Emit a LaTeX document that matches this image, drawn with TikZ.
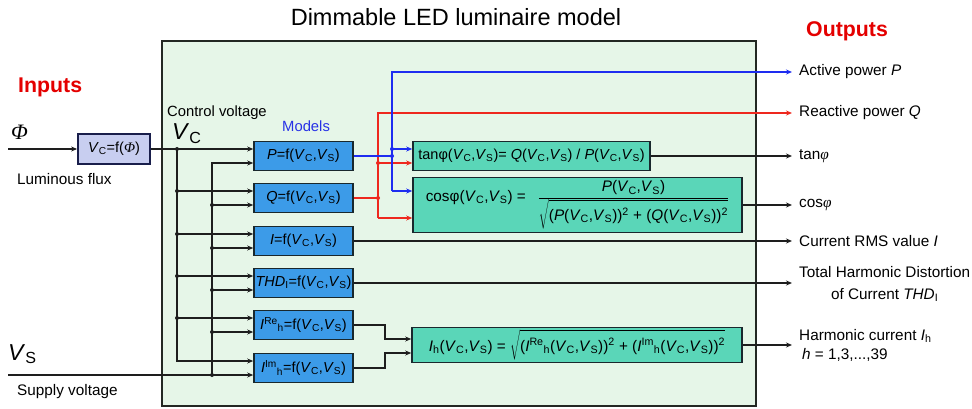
\documentclass[tikz,border=0pt]{standalone}
\usepackage{fontspec}
\setmainfont{Liberation Sans}
\newfontfamily\serifit{Liberation Serif}
\usetikzlibrary{arrows.meta}
\definecolor{mainfill}{RGB}{230,246,232}
\definecolor{mainline}{RGB}{35,40,35}
\definecolor{modelfill}{RGB}{60,155,232}
\definecolor{formfill}{RGB}{90,214,184}
\definecolor{boxline}{RGB}{25,40,45}
\definecolor{vcfill}{RGB}{200,206,240}
\definecolor{vcline}{RGB}{25,30,75}
\definecolor{wirec}{RGB}{30,30,30}
\definecolor{wred}{RGB}{238,40,30}
\definecolor{wblue}{RGB}{30,45,240}
\definecolor{titlered}{RGB}{228,0,0}
\definecolor{modelsblue}{RGB}{40,50,230}
\newcommand{\VC}{\textit{V}\textsubscript{C}}
\newcommand{\VS}{\textit{V}\textsubscript{S}}
\newcommand{\bigstrut}{\rule[-7pt]{0pt}{25pt}}
\begin{document}
\begin{tikzpicture}[x=1pt,y=-1pt,
  wire/.style={line width=1.2pt, draw=wirec},
  arr/.style={-{Stealth[length=6pt,width=5pt]}},
  jdot/.style={circle, fill=wirec, inner sep=0pt, minimum size=4pt},
  model/.style={draw=boxline, fill=modelfill, line width=1.6pt, minimum width=99pt, minimum height=29pt, inner sep=0pt, font=\fontsize{14.5}{17}\selectfont},
  formula/.style={draw=boxline, fill=formfill, line width=1.6pt, inner sep=0pt, font=\fontsize{14.5}{17}\selectfont},
  outlbl/.style={anchor=west, inner xsep=7pt, inner ysep=0pt, font=\fontsize{15.3}{19}\selectfont},
  txt/.style={inner sep=0pt, font=\fontsize{15.3}{19}\selectfont}
]
\useasboundingbox (0,0) rectangle (972,409);
% main box
\node[draw=mainline, fill=mainfill, line width=2pt, minimum width=594pt, minimum height=365pt, inner sep=0pt] (main) at (459,223.5) {};
% titles
\node[anchor=base, inner sep=0pt, font=\fontsize{23.5}{28}\selectfont] (title) at (456,26) {Dimmable LED luminaire model};
\node[anchor=base west, inner sep=0pt, text=titlered, font=\fontsize{21.3}{25}\selectfont\bfseries] (inputs) at (18,93) {Inputs};
\node[anchor=base west, inner sep=0pt, text=titlered, font=\fontsize{21.3}{25}\selectfont\bfseries] (outputs) at (806,37) {Outputs};
% input labels
\node[anchor=base west, inner sep=0pt, font=\fontsize{22}{26}\selectfont] (phi) at (11,140) {{\serifit\itshape Φ}};
\node[anchor=base west, txt] (lum) at (17,185) {Luminous flux};
\node[anchor=base west, inner sep=0pt, font=\fontsize{23}{26}\selectfont] (vslbl) at (8,360) {\VS};
\node[anchor=base west, txt] (sup) at (17,395) {Supply voltage};
\node[anchor=base west, txt, font=\fontsize{14.8}{18}\selectfont] (ctrl) at (167,117) {Control voltage};
\node[anchor=base west, inner sep=0pt, font=\fontsize{23}{26}\selectfont] (vclbl) at (172,140) {\VC};
\node[anchor=base west, txt, text=modelsblue, font=\fontsize{14.8}{18}\selectfont] (models) at (282,132) {Models};
% VC box
\node[draw=vcline, fill=vcfill, line width=1.8pt, minimum width=72pt, minimum height=30pt, inner sep=0pt, font=\fontsize{14.5}{17}\selectfont] (vcbox) at (114,149) {\VC=f({\serifit\itshape Φ})};
% model boxes
\node[model] (P) at (303.5,156) {\textit{P}=f(\VC,\VS)};
\node[model] (Q) at (303.5,198) {\textit{Q}=f(\VC,\VS)};
\node[model] (I) at (303.5,241) {\textit{I}=f(\VC,\VS)};
\node[model] (THD) at (303.5,283) {\textit{THD}\textsubscript{I}=f(\VC,\VS)};
\node[model] (IRe) at (303.5,325) {\textit{I}\textsuperscript{Re}\textsubscript{h}=f(\VC,\VS)};
\node[model] (IIm) at (303.5,368) {\textit{I}\textsuperscript{Im}\textsubscript{h}=f(\VC,\VS)};
% formula boxes
\node[formula, minimum width=237pt, minimum height=29pt] (tan) at (531.5,156) {tanφ(\VC,\VS)= \textit{Q}(\VC,\VS) / \textit{P}(\VC,\VS)};
\node[formula, minimum width=329pt, minimum height=55pt, font=\fontsize{15.3}{18}\selectfont] (cos) at (577.5,205) {cosφ(\VC,\VS) = \enspace$\displaystyle\frac{\mbox{\textit{P}(\VC,\VS)}}{\sqrt{\mbox{\bigstrut(\textit{P}(\VC,\VS))\textsuperscript{2} + (\textit{Q}(\VC,\VS))\textsuperscript{2}}}}$};
\node[formula, minimum width=330pt, minimum height=35pt, font=\fontsize{15.3}{18}\selectfont] (Ih) at (577,345) {\textit{I}\textsubscript{h}(\VC,\VS) = $\sqrt{\mbox{\bigstrut(\textit{I}\textsuperscript{Re}\textsubscript{h}(\VC,\VS))\textsuperscript{2} + (\textit{I}\textsuperscript{Im}\textsubscript{h}(\VC,\VS))\textsuperscript{2}}}$};
% output labels
\node[outlbl] (lP) at (792,72) {Active power \textit{P}};
\node[outlbl] (lQ) at (792,113) {Reactive power \textit{Q}};
\node[outlbl] (ltan) at (792,156) {tan{\serifit\itshape φ}};
\node[outlbl] (lcos) at (792,205) {cos{\serifit\itshape φ}};
\node[outlbl] (lI) at (792,241) {Current RMS value \textit{I}};
\node[outlbl, align=center, font=\fontsize{15.3}{22}\selectfont] (lTHD) at (792,284) {Total Harmonic Distortion\\of Current \textit{THD}\textsubscript{I}};
\node[outlbl, align=left, font=\fontsize{15.3}{19}\selectfont] (lIh) at (792,345) {Harmonic current \textit{I}\textsubscript{h}\\\hspace{3pt}\textit{h} = 1,3,...,39};
% input wires
\coordinate (phiin) at (8,149);
\coordinate (vsin) at (8,375);
\coordinate (vc0) at (177,149);
\coordinate (vsx) at (212,375);
\foreach \m in {P,Q,I,THD,IRe,IIm}{
  \coordinate (\m-c) at ([yshift=7pt]\m.west);
  \coordinate (\m-s) at ([yshift=-7pt]\m.west);
}
\draw[wire,arr] (phiin) -- (vcbox.west);
\draw[wire,arr] (vcbox.east) -- (P-c);
\draw[wire,arr] (vc0) |- (IIm-c);
\draw[wire,arr] (vsin) -- (IIm-s);
\draw[wire,arr] (vsx) |- (P-s);
\node[jdot] at (vc0) {};
\node[jdot] at (vsx) {};
\foreach \m in {Q,I,THD,IRe}{
  \draw[wire,arr] (vc0 |- \m-c) -- (\m-c);
  \node[jdot] at (vc0 |- \m-c) {};
  \draw[wire,arr] (vsx |- \m-s) -- (\m-s);
  \node[jdot] at (vsx |- \m-s) {};
}
% red (Q) and blue (P) wires
\coordinate (bj) at (392,156);
\coordinate (bt) at (392,149);
\coordinate (bb) at (392,191);
\coordinate (rj) at (378,198);
\coordinate (rt) at (378,163);
\coordinate (rb) at (378,218);
\draw[wire,draw=wred] (Q.east) -- (rj);
\draw[wire,draw=wred,arr] (rb) |- (lQ.west);
\draw[wire,draw=wred,arr] (rt) -- (rt -| tan.west);
\draw[wire,draw=wred,arr] (rb) -- (rb -| cos.west);
\node[jdot,fill=wred] at (rj) {};
\node[jdot,fill=wred] at (rt) {};
\draw[wire,draw=wblue] (P.east) -- (bj);
\draw[wire,draw=wblue,arr] (bb) |- (lP.west);
\draw[wire,draw=wblue,arr] (bt) -- (bt -| tan.west);
\draw[wire,draw=wblue,arr] (bb) -- (bb -| cos.west);
\node[jdot,fill=wblue] at (bj) {};
\node[jdot,fill=wblue] at (bt) {};
% outputs
\draw[wire,arr] (tan.east) -- (ltan.west);
\draw[wire,arr] (cos.east) -- (lcos.west);
\draw[wire,arr] (I.east) -- (lI.west);
\draw[wire,arr] (THD.east) -- (THD.east -| lTHD.west);
\draw[wire,arr] (Ih.east) -- (lIh.west);
% harmonic wires
\coordinate (hk1) at (385,339);
\coordinate (hk2) at (385,353);
\draw[wire,arr] (IRe.east) -| (hk1) -- (hk1 -| Ih.west);
\draw[wire,arr] (IIm.east) -| (hk2) -- (hk2 -| Ih.west);
\end{tikzpicture}
\end{document}
